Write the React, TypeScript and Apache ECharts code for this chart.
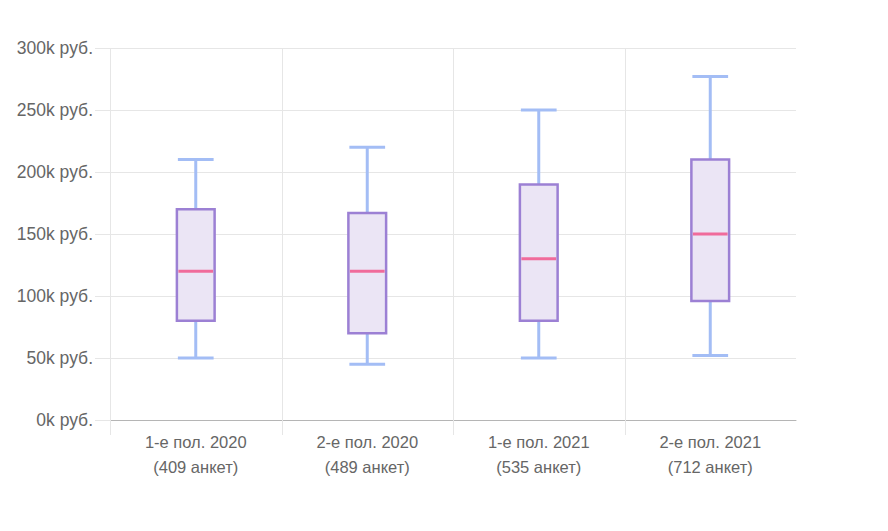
import React, { useEffect, useRef } from "react";
import * as echarts from "echarts";

const periods = ["1-е пол. 2020", "2-е пол. 2020", "1-е пол. 2021", "2-е пол. 2021"];
const responses = [409, 489, 535, 712];
const mins = [50000, 45000, 50000, 52000];
const q1s = [80000, 70000, 80000, 96000];
const medians = [120000, 120000, 130000, 150000];
const q3s = [170000, 167000, 190000, 210000];
const maxs = [210000, 220000, 250000, 277000];

const WHISKER = "#a3bdf5";
const BORDER = "#9c80d4";
const FILL = "#ebe5f5";
const MEDIAN = "#f06b9b";
const GRID = "#e6e6e6";
const FONT = "'Liberation Sans', Arial, sans-serif";

export default function App() {
  const ref = useRef<HTMLDivElement>(null);

  useEffect(() => {
    if (!ref.current) return;
    const chart = echarts.init(ref.current, null, { renderer: "svg" });
    const categories = periods.map((p, i) => `${p}\n(${responses[i]} анкет)`);
    const data = periods.map((_, i) => [i, mins[i], q1s[i], medians[i], q3s[i], maxs[i]]);

    chart.setOption({
      animation: false,
      grid: { left: 102, right: 84, top: 40, bottom: 103 },
      xAxis: {
        type: "category",
        data: categories,
        boundaryGap: true,
        axisLine: { show: true, lineStyle: { color: "#b5b5b5", width: 1 } },
        axisTick: { show: false },
        splitLine: { show: false },
        axisLabel: {
          color: "#666",
          fontSize: 16.5,
          lineHeight: 25,
          margin: 9,
          fontFamily: FONT,
        },
      },
      yAxis: {
        type: "value",
        min: 0,
        max: 300000,
        interval: 50000,
        axisLine: { show: false },
        axisTick: { show: true, length: 15, lineStyle: { color: GRID } },
        splitLine: { show: true, lineStyle: { color: GRID } },
        axisLabel: {
          color: "#666",
          fontSize: 17.5,
          margin: 17,
          fontFamily: FONT,
          formatter: (v: number) => `${v / 1000}k руб.`,
        },
      },
      series: [
        {
          type: "custom",
          clip: false,
          data,
          encode: { x: 0, y: [1, 2, 3, 4, 5] },
          renderItem: (params: any, api: any) => {
            const idx = api.value(0);
            const cs = params.coordSys;
            const bandW = api.size([1, 0])[0];
            const cx = api.coord([idx, 0])[0];
            const boxW = bandW * 0.22;
            const y = (k: number) => api.coord([idx, api.value(k)])[1];
            const yMin = y(1), yQ1 = y(2), yMed = y(3), yQ3 = y(4), yMax = y(5);
            const bottom = cs.y + cs.height;
            const gx = Math.round(cx - bandW / 2) + 0.5;
            const l = cx - boxW / 2;
            const r = cx + boxW / 2;
            const capL = cx - boxW / 2 + 1;
            const capR = cx + boxW / 2 - 1;
            return {
              type: "group",
              children: [
                {
                  type: "line",
                  shape: { x1: gx, y1: cs.y, x2: gx, y2: bottom + 15 },
                  style: { stroke: GRID, lineWidth: 1 },
                  silent: true,
                },
                {
                  type: "line",
                  shape: { x1: cx, y1: yMax, x2: cx, y2: yQ3 },
                  style: { stroke: WHISKER, lineWidth: 3 },
                },
                {
                  type: "line",
                  shape: { x1: cx, y1: yQ1, x2: cx, y2: yMin },
                  style: { stroke: WHISKER, lineWidth: 3 },
                },
                {
                  type: "line",
                  shape: { x1: capL, y1: yMax, x2: capR, y2: yMax },
                  style: { stroke: WHISKER, lineWidth: 3 },
                },
                {
                  type: "line",
                  shape: { x1: capL, y1: yMin, x2: capR, y2: yMin },
                  style: { stroke: WHISKER, lineWidth: 3 },
                },
                {
                  type: "rect",
                  shape: { x: l, y: yQ3, width: r - l, height: yQ1 - yQ3 },
                  style: { fill: FILL, stroke: BORDER, lineWidth: 2.5 },
                },
                {
                  type: "line",
                  shape: { x1: l + 1.5, y1: yMed, x2: r - 1.5, y2: yMed },
                  style: { stroke: MEDIAN, lineWidth: 3 },
                },
              ],
            };
          },
        },
      ],
    });
    return () => chart.dispose();
  }, []);

  return <div ref={ref} style={{ width: 872, height: 515 }} />;
}
